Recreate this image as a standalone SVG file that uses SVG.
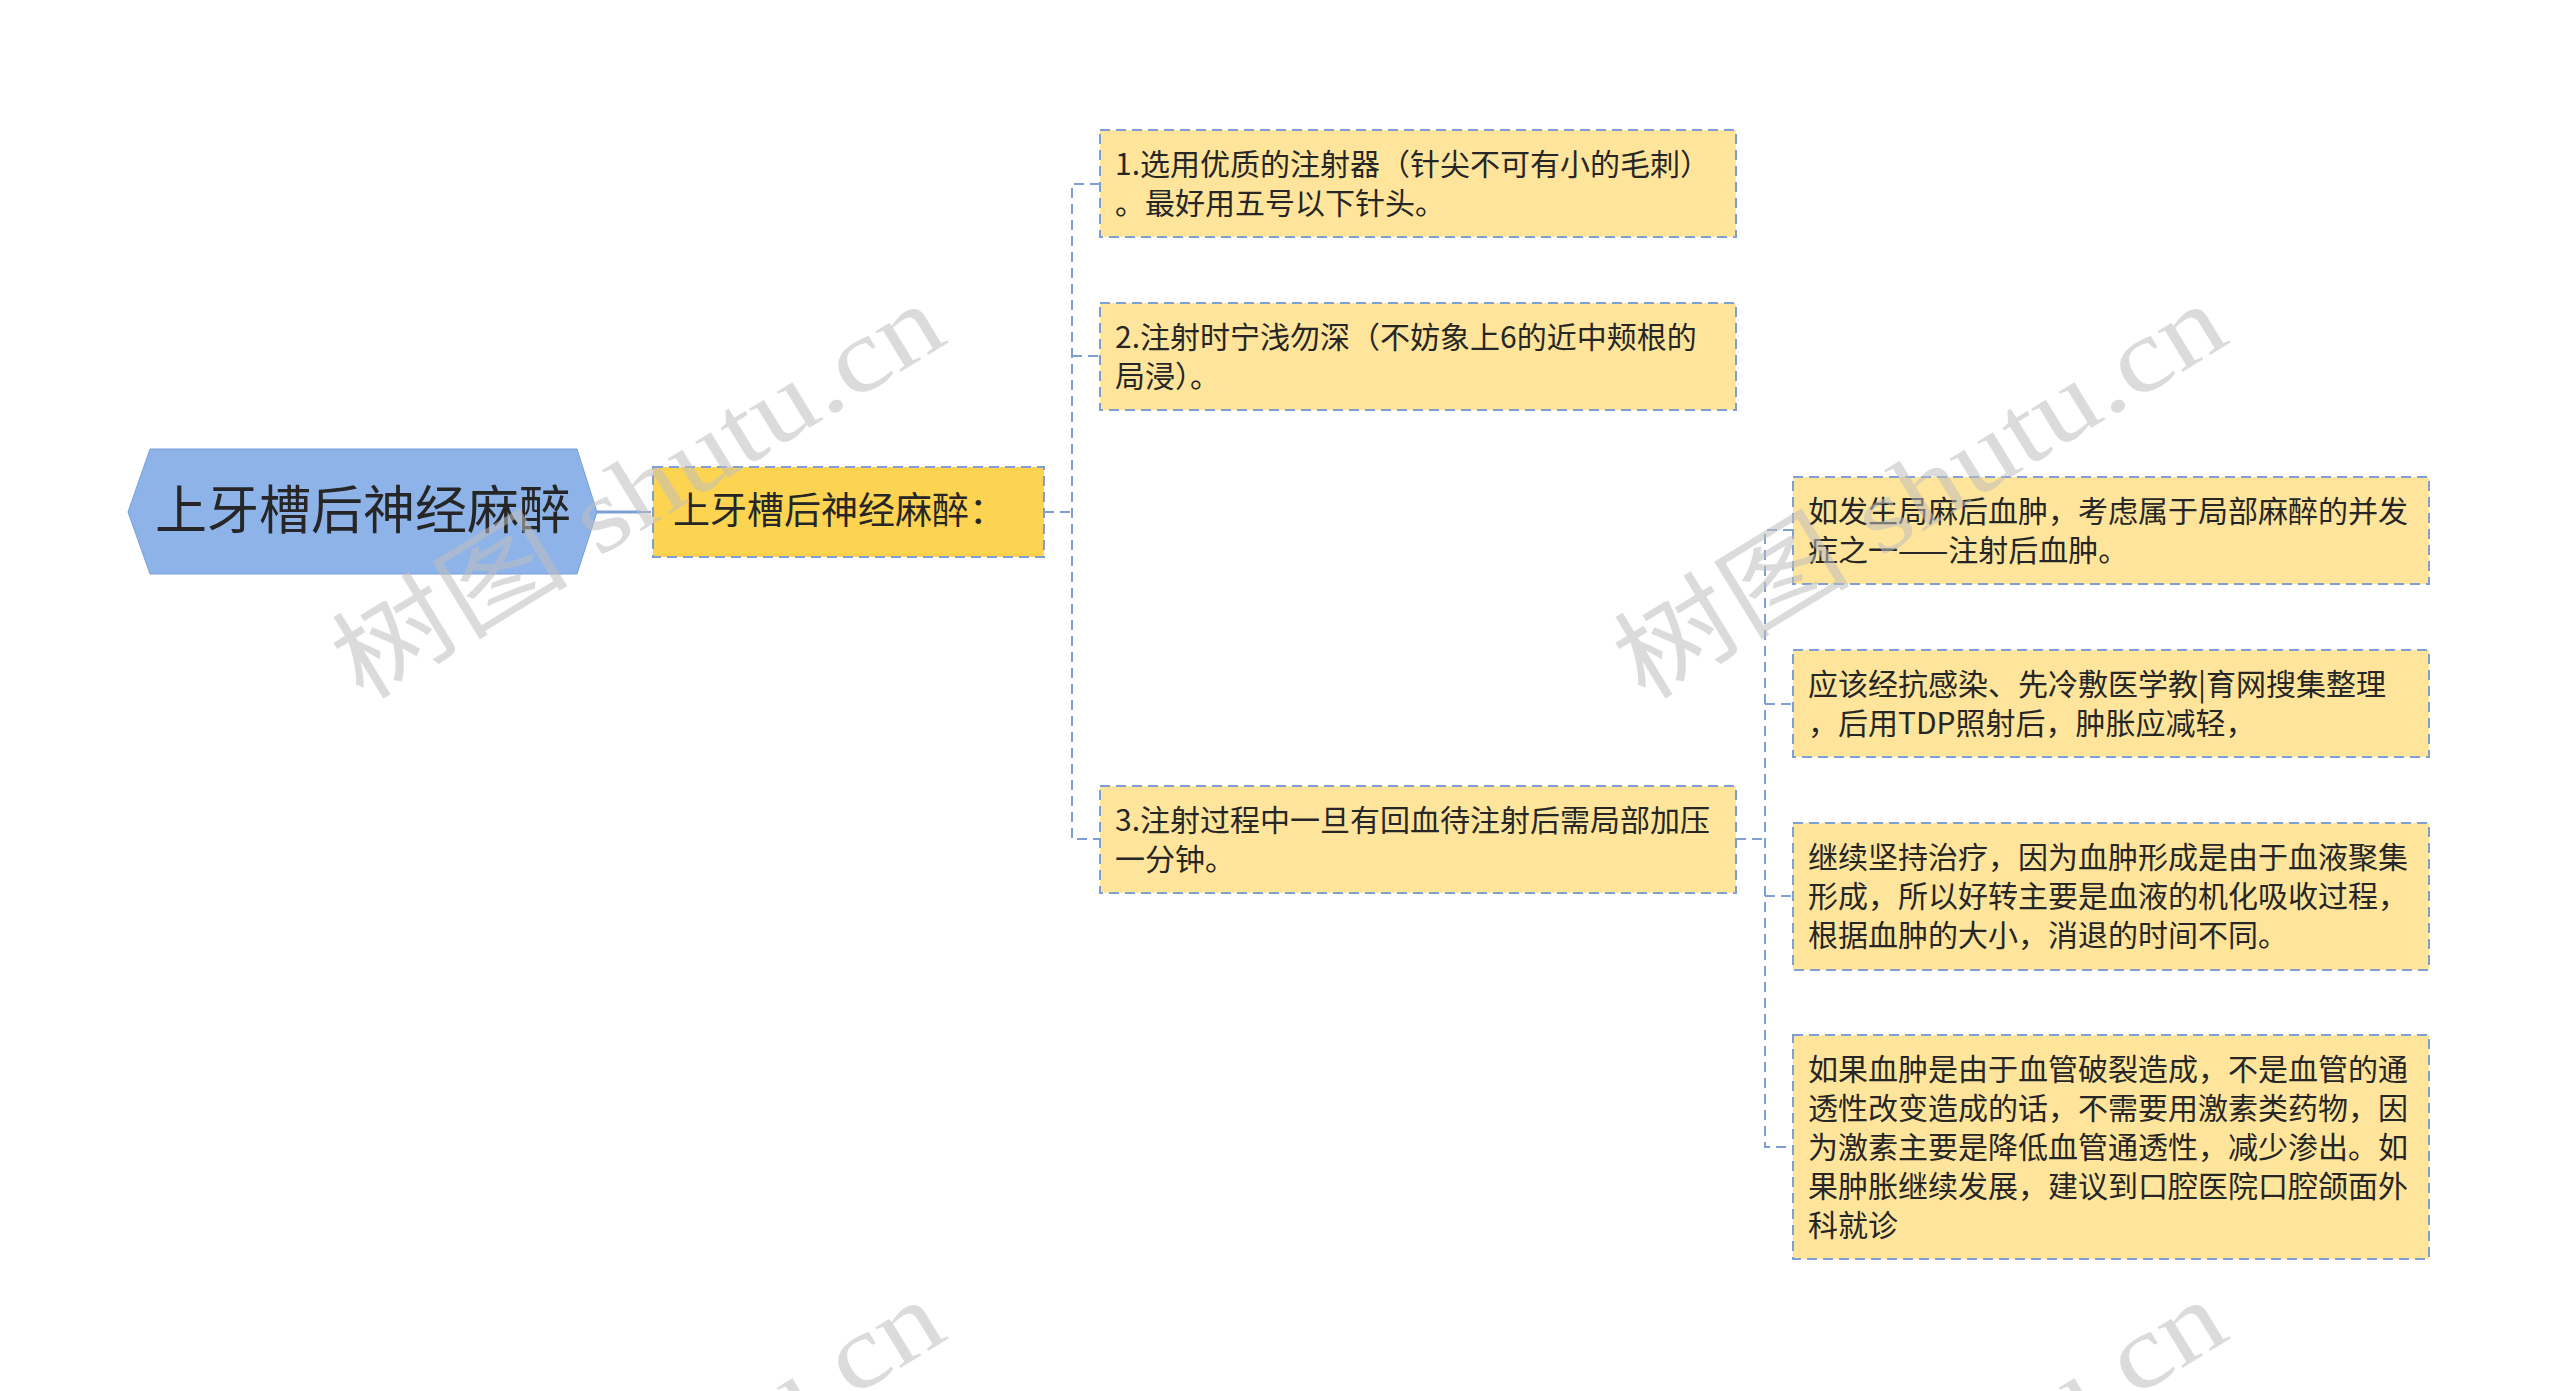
<svg xmlns="http://www.w3.org/2000/svg" width="2560" height="1391" viewBox="0 0 2560 1391">
<style>
.t{font-family:"Noto Sans CJK SC","Microsoft YaHei",sans-serif;fill:#262626;}
.box{fill:#FEE59B;stroke:#7F9FD3;stroke-width:2;stroke-dasharray:10 6;}
.sub{fill:#FDD452;stroke:#7F9FD3;stroke-width:2;stroke-dasharray:10 6;}
.conn{fill:none;stroke:#7F9FD3;stroke-width:2;stroke-dasharray:10 6;}
.wm{font-family:"Liberation Serif","Noto Sans CJK SC",serif;fill:#BDBDBD;fill-opacity:0.55;font-size:104px;}
</style>
<rect width="2560" height="1391" fill="#ffffff"/>
<g id="connectors">
<line x1="596" y1="512" x2="641" y2="512" stroke="#7F9FD3" stroke-width="3"/>
<line x1="641" y1="512" x2="653" y2="512" class="conn"/>
<path class="conn" d="M1044 512 H1072 M1100 184 H1072 V839 H1100 M1072 356 H1100"/>
<path class="conn" d="M1736 839 H1765 M1793 530 H1765 V1147 H1793 M1765 704 H1793 M1765 896 H1793"/>
</g>
<g id="root">
<polygon points="128,512 150,449 577,449 597,512 577,574 150,574" fill="#8EB3E9" stroke="#7A9FD8" stroke-width="1"/>
<text class="t" x="363" y="529" font-size="52" text-anchor="middle">上牙槽后神经麻醉</text>
</g>
<g id="n1">
<rect class="sub" x="653" y="467" width="391" height="90"/>
<text class="t" x="673" y="524" font-size="37">上牙槽后神经麻醉：</text>
</g>
<g id="c1">
<rect class="box" x="1100" y="130" width="636" height="107"/>
<text class="t" font-size="30"><tspan x="1115" y="175">1.选用优质的注射器（针尖不可有小的毛刺）</tspan><tspan x="1115" y="214">。最好用五号以下针头。</tspan></text>
</g>
<g id="c2">
<rect class="box" x="1100" y="303" width="636" height="107"/>
<text class="t" font-size="30"><tspan x="1115" y="348">2.注射时宁浅勿深（不妨象上6的近中颊根的</tspan><tspan x="1115" y="387">局浸）。</tspan></text>
</g>
<g id="c3">
<rect class="box" x="1100" y="786" width="636" height="107"/>
<text class="t" font-size="30"><tspan x="1115" y="831">3.注射过程中一旦有回血待注射后需局部加压</tspan><tspan x="1115" y="870">一分钟。</tspan></text>
</g>
<g id="g1">
<rect class="box" x="1793" y="477" width="636" height="107"/>
<text class="t" font-size="30"><tspan x="1808" y="522">如发生局麻后血肿，考虑属于局部麻醉的并发</tspan><tspan x="1808" y="561">症之一——注射后血肿。</tspan></text>
</g>
<g id="g2">
<rect class="box" x="1793" y="650" width="636" height="107"/>
<text class="t" font-size="30"><tspan x="1808" y="695">应该经抗感染、先冷敷医学教|育网搜集整理</tspan><tspan x="1808" y="734">，后用TDP照射后，肿胀应减轻，</tspan></text>
</g>
<g id="g3">
<rect class="box" x="1793" y="823" width="636" height="147"/>
<text class="t" font-size="30"><tspan x="1808" y="868">继续坚持治疗，因为血肿形成是由于血液聚集</tspan><tspan x="1808" y="907">形成，所以好转主要是血液的机化吸收过程，</tspan><tspan x="1808" y="946">根据血肿的大小，消退的时间不同。</tspan></text>
</g>
<g id="g4">
<rect class="box" x="1793" y="1035" width="636" height="224"/>
<text class="t" font-size="30"><tspan x="1808" y="1080">如果血肿是由于血管破裂造成，不是血管的通</tspan><tspan x="1808" y="1119">透性改变造成的话，不需要用激素类药物，因</tspan><tspan x="1808" y="1158">为激素主要是降低血管通透性，减少渗出。如</tspan><tspan x="1808" y="1197">果肿胀继续发展，建议到口腔医院口腔颌面外</tspan><tspan x="1808" y="1236">科就诊</tspan></text>
</g>
<g id="watermarks">
<text class="wm" transform="translate(362,702) rotate(-31.5)" textLength="690" lengthAdjust="spacingAndGlyphs">树图 shutu.cn</text>
<text class="wm" transform="translate(1644,702) rotate(-31.5)" textLength="690" lengthAdjust="spacingAndGlyphs">树图 shutu.cn</text>
<text class="wm" transform="translate(362,1698) rotate(-31.5)" textLength="690" lengthAdjust="spacingAndGlyphs">树图 shutu.cn</text>
<text class="wm" transform="translate(1644,1698) rotate(-31.5)" textLength="690" lengthAdjust="spacingAndGlyphs">树图 shutu.cn</text>
</g>
</svg>
